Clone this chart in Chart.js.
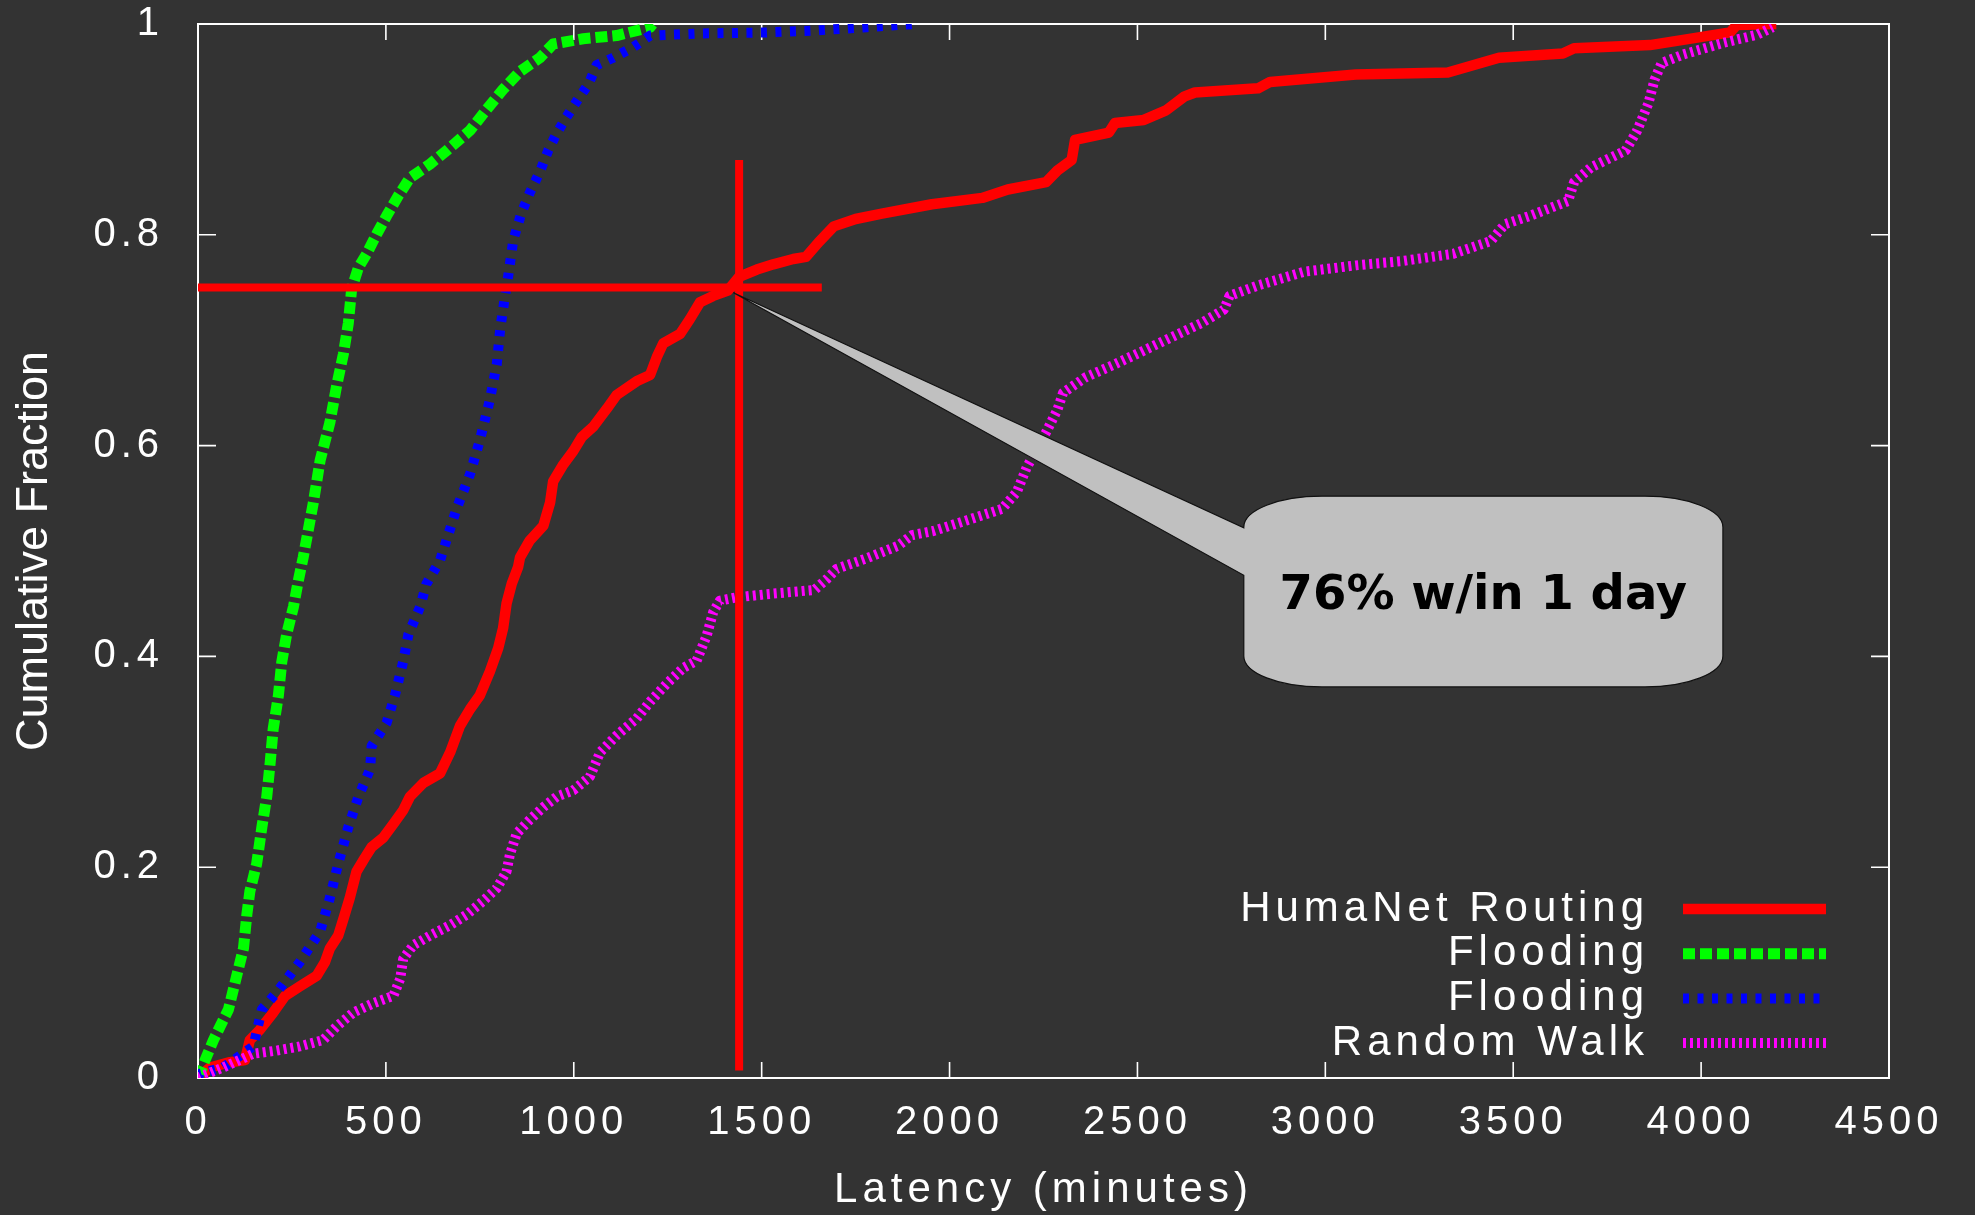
<!DOCTYPE html>
<html>
<head>
<meta charset="utf-8">
<script src="https://cdn.jsdelivr.net/npm/chart.js@4.4.1/dist/chart.umd.min.js"></script>
<style>
  html, body { margin: 0; padding: 0; background: #333333; }
  canvas { display: block; }
</style>
</head>
<body>
<canvas id="cdf" width="1975" height="1215"></canvas>
<script>
// Delivery latency distributions: [latency in minutes, cumulative fraction]
const routingCurve = [
  [0,0],[32,0.01],[85,0.015],[125,0.017],[138,0.036],[165,0.046],[200,0.062],[232,0.078],
  [271,0.087],[316,0.097],[338,0.11],[351,0.123],[373,0.135],[387,0.151],[404,0.171],[422,0.196],
  [444,0.209],[462,0.219],[493,0.228],[520,0.241],[546,0.254],[564,0.267],[600,0.28],[644,0.289],
  [671,0.309],[697,0.334],[724,0.35],[750,0.363],[777,0.386],[799,0.408],[812,0.427],[821,0.45],
  [835,0.469],[852,0.485],[857,0.494],[883,0.51],[919,0.524],[937,0.546],[945,0.566],[972,0.582],
  [999,0.595],[1021,0.608],[1052,0.618],[1088,0.635],[1114,0.648],[1167,0.661],[1203,0.667],
  [1221,0.684],[1238,0.697],[1283,0.706],[1309,0.72],[1336,0.736],[1371,0.742],[1410,0.747],
  [1440,0.76],[1487,0.767],[1531,0.772],[1584,0.777],[1618,0.779],[1652,0.793],[1692,0.808],
  [1750,0.815],[1820,0.82],[1953,0.829],[2087,0.835],[2155,0.843],[2257,0.85],[2287,0.861],
  [2325,0.871],[2334,0.89],[2424,0.897],[2440,0.906],[2517,0.909],[2576,0.918],[2624,0.931],
  [2653,0.935],[2821,0.939],[2853,0.945],[3081,0.952],[3326,0.954],[3462,0.968],[3632,0.972],
  [3662,0.977],[3864,0.98],[3952,0.985],[4077,0.992],[4095,0.999],[4200,1.0]
];
const floodCurve = [
  [0,0],[19,0.017],[41,0.036],[81,0.065],[103,0.097],[121,0.123],[130,0.155],[138,0.177],
  [156,0.203],[170,0.238],[183,0.267],[192,0.299],[200,0.331],[214,0.363],[223,0.395],[236,0.421],
  [254,0.447],[267,0.472],[280,0.494],[307,0.546],[325,0.586],[351,0.622],[369,0.657],[387,0.687],
  [400,0.716],[409,0.749],[427,0.769],[449,0.782],[476,0.801],[502,0.818],[533,0.837],[564,0.854],
  [617,0.867],[662,0.88],[724,0.899],[768,0.919],[812,0.938],[857,0.955],[910,0.968],[945,0.981],
  [1025,0.986],[1114,0.989],[1203,0.997],[1210,1.0]
];
const floodAltCurve = [
  [0,0],[5,0.004],[67,0.01],[147,0.03],[170,0.065],[209,0.081],[271,0.11],[325,0.139],
  [351,0.171],[373,0.203],[400,0.238],[427,0.267],[458,0.293],[462,0.315],[502,0.337],[524,0.363],
  [546,0.395],[560,0.421],[591,0.447],[608,0.469],[644,0.491],[688,0.54],[724,0.573],[750,0.605],
  [777,0.644],[795,0.677],[804,0.71],[817,0.742],[826,0.762],[839,0.795],[861,0.821],[883,0.84],
  [910,0.86],[932,0.88],[954,0.896],[981,0.912],[1012,0.929],[1039,0.943],[1061,0.961],[1105,0.968],
  [1158,0.978],[1203,0.989],[1336,0.991],[1513,0.992],[1650,0.994],[1780,0.997],[1905,1.0]
];
const walkCurve = [
  [0,0],[5,0.001],[67,0.01],[147,0.023],[209,0.026],[271,0.03],[333,0.036],[369,0.049],
  [413,0.062],[467,0.071],[520,0.078],[538,0.094],[546,0.113],[573,0.126],[617,0.135],[671,0.145],
  [715,0.155],[759,0.168],[795,0.18],[821,0.196],[830,0.212],[848,0.232],[883,0.245],[919,0.257],
  [955,0.267],[999,0.273],[1043,0.286],[1070,0.309],[1114,0.325],[1167,0.341],[1203,0.357],
  [1247,0.374],[1291,0.389],[1327,0.396],[1354,0.42],[1371,0.442],[1389,0.453],[1433,0.456],
  [1513,0.459],[1640,0.463],[1675,0.474],[1699,0.483],[1779,0.493],[1863,0.505],[1900,0.515],
  [1957,0.519],[2045,0.529],[2140,0.54],[2179,0.556],[2205,0.579],[2256,0.612],[2287,0.634],
  [2302,0.65],[2363,0.665],[2439,0.677],[2516,0.69],[2592,0.703],[2669,0.716],[2730,0.729],
  [2745,0.742],[2821,0.752],[2944,0.765],[3081,0.771],[3203,0.775],[3341,0.782],[3440,0.794],
  [3478,0.81],[3545,0.818],[3646,0.832],[3662,0.85],[3707,0.864],[3799,0.88],[3830,0.899],
  [3860,0.925],[3876,0.947],[3895,0.963],[3952,0.971],[4058,0.982],[4150,0.99],[4190,0.997]
];
const seriesNames = ['HumaNet Routing', 'Flooding', 'Flooding', 'Random Walk'];
const latencyTicks = [0, 500, 1000, 1500, 2000, 2500, 3000, 3500, 4000, 4500];
const fractionTicks = [0, 0.2, 0.4, 0.6, 0.8, 1];

// One-day marker and its callout
const dayMinutes = 1440;
const markedFraction = 0.75;
const calloutText = '76% w/in 1 day';

const GNU_FONT = '"Liberation Sans", Arial, Helvetica, sans-serif';
const toPoints = arr => arr.map(([x, y]) => ({ x, y }));

// Paints the dark page colour and sets the wide text spacing for all labels
const backdrop = {
  id: 'backdrop',
  beforeDraw(chart) {
    const ctx = chart.ctx;
    ctx.save();
    ctx.fillStyle = '#333333';
    ctx.fillRect(0, 0, chart.width, chart.height);
    ctx.restore();
    ctx.letterSpacing = '5px';
  },
  // the vertical title is set tighter than the other labels
  afterLayout(chart) {
    const ys = chart.scales.y;
    if (ys && !ys._tightTitle) {
      const drawTitle = ys.drawTitle.bind(ys);
      ys.drawTitle = function () {
        const c = this.ctx;
        const prev = c.letterSpacing;
        c.letterSpacing = '0px';
        drawTitle();
        c.letterSpacing = prev;
      };
      ys._tightTitle = true;
    }
  }
};

// Box frame with inward ticks on all four sides
const frame = {
  id: 'frame',
  beforeDatasetsDraw(chart) {
    const { ctx, chartArea: a, scales: { x, y } } = chart;
    ctx.save();
    ctx.strokeStyle = '#ffffff';
    ctx.lineWidth = 2;
    ctx.strokeRect(a.left, a.top, a.right - a.left, a.bottom - a.top);
    ctx.lineWidth = 1.6;
    ctx.beginPath();
    x.ticks.forEach(t => {
      const px = x.getPixelForValue(t.value);
      ctx.moveTo(px, a.bottom); ctx.lineTo(px, a.bottom - 16);
      ctx.moveTo(px, a.top); ctx.lineTo(px, a.top + 16);
    });
    y.ticks.forEach(t => {
      const py = y.getPixelForValue(t.value);
      ctx.moveTo(a.left, py); ctx.lineTo(a.left + 18, py);
      ctx.moveTo(a.right, py); ctx.lineTo(a.right - 18, py);
    });
    ctx.stroke();
    ctx.restore();
  }
};

// Crosshair at one day and the speech-bubble callout
const dayMarker = {
  id: 'dayMarker',
  afterDatasetsDraw(chart) {
    const { ctx, scales: { x, y } } = chart;
    ctx.save();
    ctx.letterSpacing = '0px';
    ctx.strokeStyle = '#ff0000';
    ctx.lineWidth = 8;
    ctx.lineCap = 'butt';
    ctx.beginPath();
    ctx.moveTo(x.getPixelForValue(0), y.getPixelForValue(markedFraction));
    ctx.lineTo(x.getPixelForValue(1660), y.getPixelForValue(markedFraction));
    ctx.moveTo(x.getPixelForValue(dayMinutes), y.getPixelForValue(0.007));
    ctx.lineTo(x.getPixelForValue(dayMinutes), y.getPixelForValue(0.871));
    ctx.stroke();

    // bubble outline (tip, then around the rounded box)
    const tipX = x.getPixelForValue(1425), tipY = y.getPixelForValue(0.745);
    const L = x.getPixelForValue(2783), R = x.getPixelForValue(4058);
    const T = y.getPixelForValue(0.552), B = y.getPixelForValue(0.371);
    const baseTop = y.getPixelForValue(0.522), baseBottom = y.getPixelForValue(0.477);
    const rx = 78, ry = 31;
    ctx.beginPath();
    ctx.moveTo(tipX, tipY);
    ctx.lineTo(L, baseTop);
    ctx.ellipse(L + rx, T + ry, rx, ry, 0, Math.PI, 1.5 * Math.PI);
    ctx.ellipse(R - rx, T + ry, rx, ry, 0, 1.5 * Math.PI, 2 * Math.PI);
    ctx.ellipse(R - rx, B - ry, rx, ry, 0, 0, 0.5 * Math.PI);
    ctx.ellipse(L + rx, B - ry, rx, ry, 0, 0.5 * Math.PI, Math.PI);
    ctx.lineTo(L, baseBottom);
    ctx.closePath();
    ctx.fillStyle = '#c0c0c0';
    ctx.fill();
    ctx.strokeStyle = '#111111';
    ctx.lineWidth = 1.2;
    ctx.lineJoin = 'miter';
    ctx.stroke();

    ctx.fillStyle = '#000000';
    ctx.font = 'bold 48px "DejaVu Sans", sans-serif';
    ctx.textAlign = 'center';
    ctx.textBaseline = 'alphabetic';
    ctx.fillText(calloutText, (L + R) / 2, (T + B) / 2 + 17);
    ctx.restore();
  }
};

// Key in the lower right: right-aligned names followed by line samples
const keyBox = {
  id: 'keyBox',
  afterDraw(chart) {
    const { ctx, chartArea: a } = chart;
    ctx.save();
    ctx.letterSpacing = '5px';
    ctx.font = '42px ' + GNU_FONT;
    ctx.textAlign = 'right';
    ctx.textBaseline = 'middle';
    chart.data.datasets.forEach((ds, i) => {
      const yy = a.bottom - 169 + i * 44.7;
      ctx.fillStyle = '#ffffff';
      ctx.fillText(ds.label, a.right - 240, yy);
      ctx.strokeStyle = ds.borderColor;
      ctx.lineWidth = ds.borderWidth;
      ctx.lineCap = 'butt';
      ctx.setLineDash(ds.borderDash || []);
      ctx.beginPath();
      ctx.moveTo(a.right - 206, yy);
      ctx.lineTo(a.right - 63, yy);
      ctx.stroke();
    });
    ctx.restore();
  }
};

const tickFont = { family: GNU_FONT, size: 40 };
const xTitleFont = { family: GNU_FONT, size: 42, lineHeight: 1.0 };
const yTitleFont = { family: GNU_FONT, size: 45, lineHeight: 1.0 };

new Chart(document.getElementById('cdf'), {
  type: 'line',
  data: {
    datasets: [
      { label: seriesNames[0], data: toPoints(routingCurve), borderColor: '#ff0000',
        borderWidth: 10.5, order: 4 },
      { label: seriesNames[1], data: toPoints(floodCurve), borderColor: '#00ff00',
        borderWidth: 11, borderDash: [12, 5], order: 3 },
      { label: seriesNames[2], data: toPoints(floodAltCurve), borderColor: '#0000ff',
        borderWidth: 10, borderDash: [6, 8.5], order: 2 },
      { label: seriesNames[3], data: toPoints(walkCurve), borderColor: '#ff00ff',
        borderWidth: 10, borderDash: [3, 4], order: 1 }
    ]
  },
  options: {
    responsive: false,
    animation: false,
    devicePixelRatio: 1,
    layout: { padding: { left: 0, top: 24, right: 86, bottom: 0 } },
    elements: {
      point: { radius: 0, hoverRadius: 0 },
      line: { tension: 0, borderCapStyle: 'butt', borderJoinStyle: 'round', fill: false }
    },
    plugins: { legend: { display: false }, tooltip: { enabled: false } },
    events: [],
    scales: {
      x: {
        type: 'linear',
        min: 0, max: 4500,
        afterBuildTicks: s => { s.ticks = latencyTicks.map(v => ({ value: v })); },
        afterFit: s => { s.height = 137; s.paddingLeft = 0; s.paddingRight = 0; },
        grid: { display: false, drawTicks: false },
        border: { display: false },
        ticks: { color: '#ffffff', font: tickFont, padding: 21, maxRotation: 0,
                 autoSkip: false, callback: v => String(v) },
        title: { display: true, text: 'Latency (minutes)', color: '#ffffff',
                 font: xTitleFont, padding: { top: 0, bottom: 4 } }
      },
      y: {
        type: 'linear',
        min: 0, max: 1,
        afterBuildTicks: s => { s.ticks = fractionTicks.map(v => ({ value: v })); },
        afterFit: s => { s.width = 198; s.paddingTop = 0; s.paddingBottom = 0; },
        grid: { display: false, drawTicks: false },
        border: { display: false },
        ticks: { color: '#ffffff', font: tickFont, padding: 34, autoSkip: false,
                 callback: v => String(v) },
        title: { display: true, text: 'Cumulative Fraction', color: '#ffffff',
                 font: yTitleFont, padding: { top: 12, bottom: 0 } }
      }
    }
  },
  plugins: [backdrop, frame, dayMarker, keyBox]
});
</script>
</body>
</html>
